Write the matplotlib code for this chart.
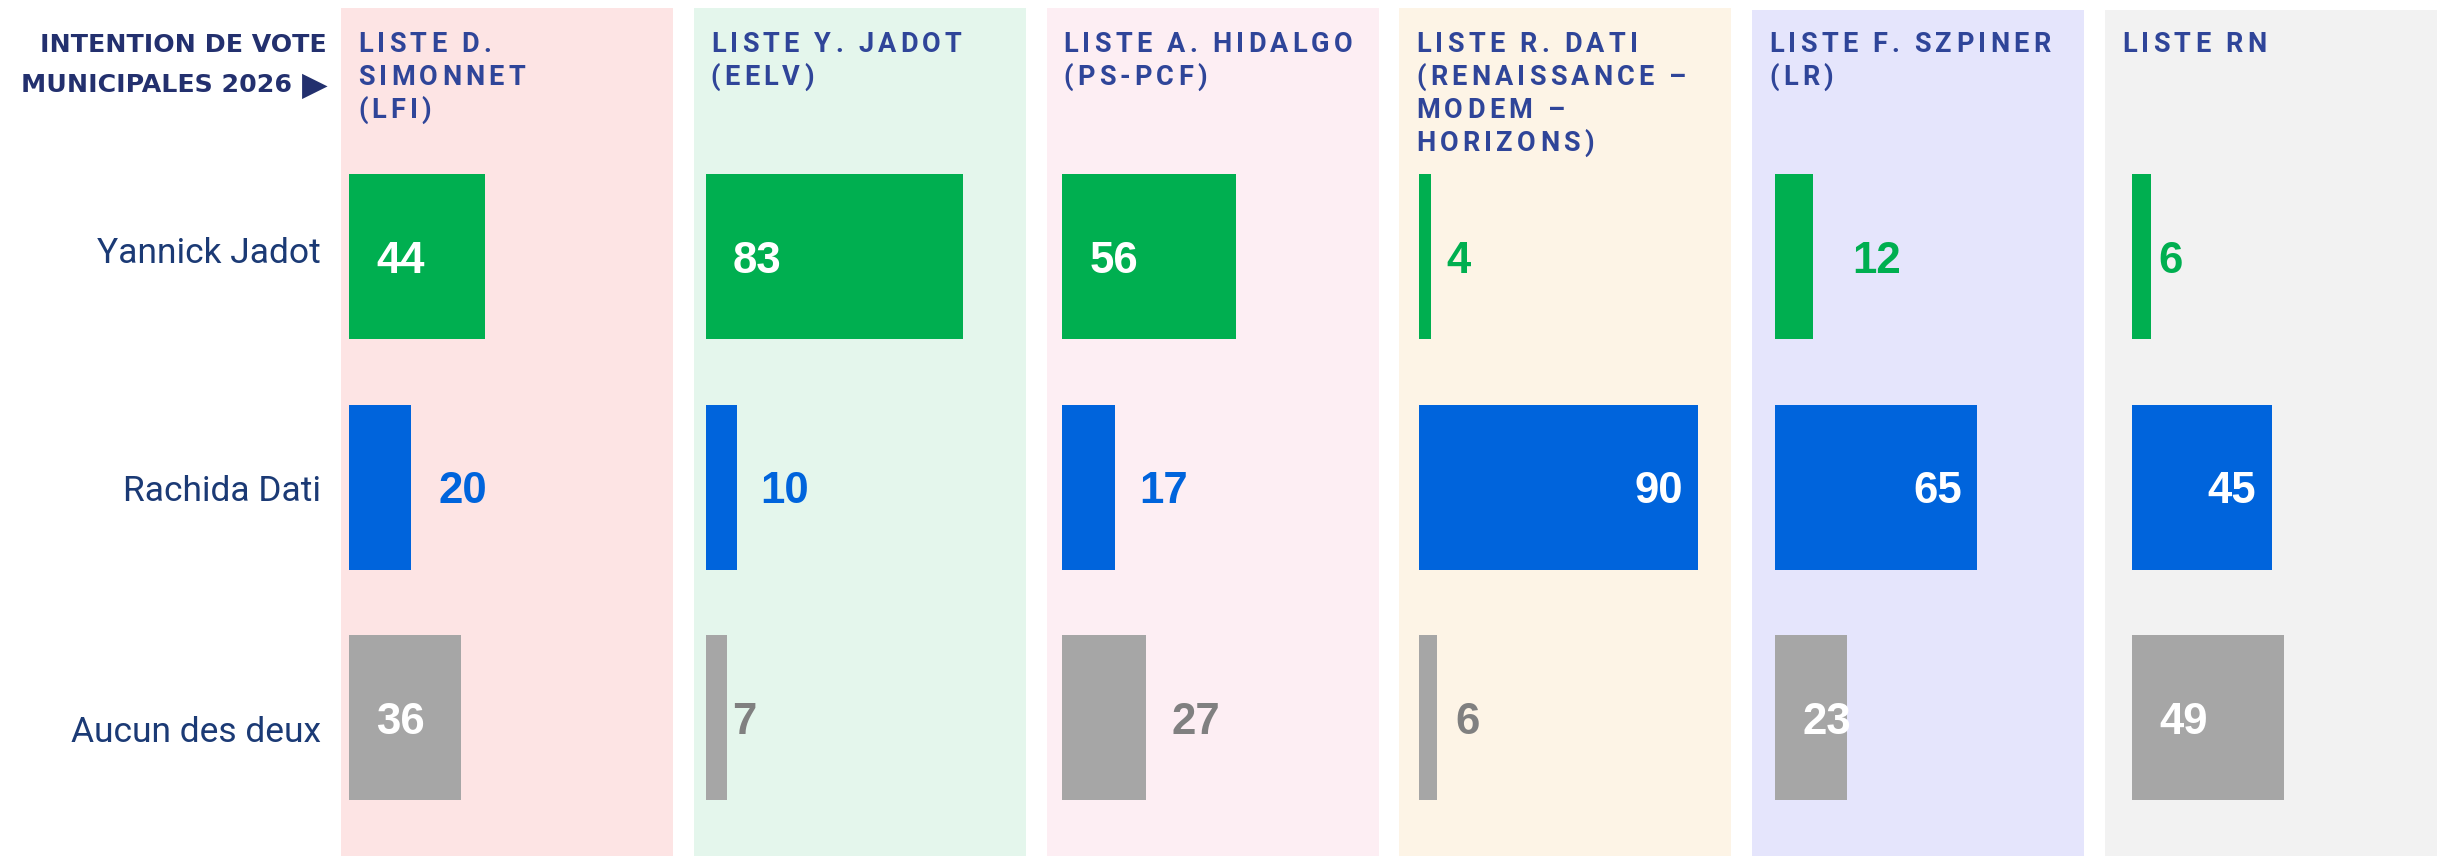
import matplotlib.pyplot as plt
from matplotlib import font_manager
from matplotlib.ft2font import FT2Font
from matplotlib.patches import Rectangle


W, H = 2451, 856

# data
lists = ["LISTE D.\nSIMONNET\n(LFI)",
         "LISTE Y. JADOT\n(EELV)",
         "LISTE A. HIDALGO\n(PS-PCF)",
         "LISTE R. DATI\n(RENAISSANCE –\nMODEM –\nHORIZONS)",
         "LISTE F. SZPINER\n(LR)",
         "LISTE RN"]
candidates = ["Yannick Jadot", "Rachida Dati", "Aucun des deux"]
jadot = [44, 83, 56, 4, 12, 6]
dati = [20, 10, 17, 90, 65, 45]
aucun = [36, 7, 27, 6, 23, 49]

# styles
panel_colors = ["#FDE4E4", "#E4F6EC", "#FDEEF3", "#FDF4E6", "#E5E5FC", "#F2F2F2"]
bar_colors = ["#00AF50", "#0064DC", "#A6A6A6"]
text_colors = ["#00AF50", "#0064DC", "#808080"]
label_where = [["in", "out", "in"], ["in", "out", "out"], ["in", "out", "out"],
               ["out", "end", "out"], ["out", "end", "in"], ["out", "end", "in"]]
label_gap = [[0, 27, 0], [0, 24, 5], [0, 24, 26], [15, 0, 18], [40, 0, 0], [8, 0, 0]]
row_nudge = [7, -1, -11]
NAVY = "#1B3A75"
HEAD = "#2F4599"
TITLE = "#23306E"


def pick(names):
    for n in names:
        try:
            font_manager.findfont(font_manager.FontProperties(family=n), fallback_to_default=False)
            return n
        except Exception:
            pass
    return "DejaVu Sans"


SANS = pick(["Roboto", "Liberation Sans", "DejaVu Sans"])
NUM = pick(["Liberation Sans", "DejaVu Sans"])


def fx(px):
    return px / W


def fy(py):
    return 1 - py / H


def tracked(fig, x, y, s, size, tracking, color):
    # draw uppercase text with letter spacing, char by char
    prop = font_manager.FontProperties(family=SANS, weight="bold")
    f = FT2Font(font_manager.findfont(prop))
    f.set_size(size, 100)
    for ch in s:
        g = f.load_char(ord(ch))
        if ch != " ":
            fig.text(fx(x), fy(y), ch, fontsize=size, fontfamily=SANS, fontweight="bold",
                     color=color, ha="left", va="baseline")
        x += g.linearHoriAdvance / 65536 + tracking


fig = plt.figure(figsize=(W / 100, H / 100), dpi=100)

panel_left = [341 + i * 352.8 for i in range(6)]
panel_top = [8, 8, 8, 8, 10, 10]
bar_left = [349 + i * 356.6 for i in range(6)]

for i in range(6):
    fig.add_artist(Rectangle((fx(panel_left[i]), 0), 332 / W, (H - panel_top[i]) / H,
                             transform=fig.transFigure, facecolor=panel_colors[i],
                             edgecolor="none", zorder=-1))
    for k, line in enumerate(lists[i].split("\n")):
        tracked(fig, panel_left[i] + 17, 52 + k * 33, line, 19.5, 4.2, HEAD)

    ax = fig.add_axes([fx(bar_left[i]), fy(833), 310 / W, 691.5 / H])
    ax.patch.set_visible(False)
    ax.axis("off")
    ax.set_xlim(0, 100)
    ax.set_ylim(2.5, -0.5)
    vals = [jadot[i], dati[i], aucun[i]]
    ax.barh(range(3), vals, height=0.716, color=bar_colors)

    for r, v in enumerate(vals):
        where = label_where[i][r]
        if where == "in":
            x, dx, ha, col = 0, 27, "left", "white"
        elif where == "end":
            x, dx, ha, col = v, -15, "right", "white"
        else:
            x, dx, ha, col = v, label_gap[i][r], "left", text_colors[r]
        ax.annotate(str(v), (x, r), xytext=(dx, -16), textcoords="offset pixels",
                    ha=ha, va="baseline", fontsize=31.5, fontweight="bold",
                    fontfamily=NUM, color=col)

    if i == 0:
        for r, name in enumerate(candidates):
            ax.annotate(name, (0, r), xytext=(-28, row_nudge[r] - 13),
                        textcoords="offset pixels", ha="right", va="baseline",
                        fontsize=25.5, fontfamily=SANS, color=NAVY, annotation_clip=False)

# title, top left
fig.text(fx(327), fy(52), "INTENTION DE VOTE", ha="right", va="baseline",
         fontsize=18.2, fontweight="bold", fontfamily="DejaVu Sans", color=TITLE)
fig.text(fx(292), fy(92), "MUNICIPALES 2026", ha="right", va="baseline",
         fontsize=18.2, fontweight="bold", fontfamily="DejaVu Sans", color=TITLE)
fig.text(fx(328), fy(95), "\u25B6", ha="right", va="baseline",
         fontsize=24, fontfamily="DejaVu Sans", color=TITLE)

fig.savefig("out.png", dpi=100)
